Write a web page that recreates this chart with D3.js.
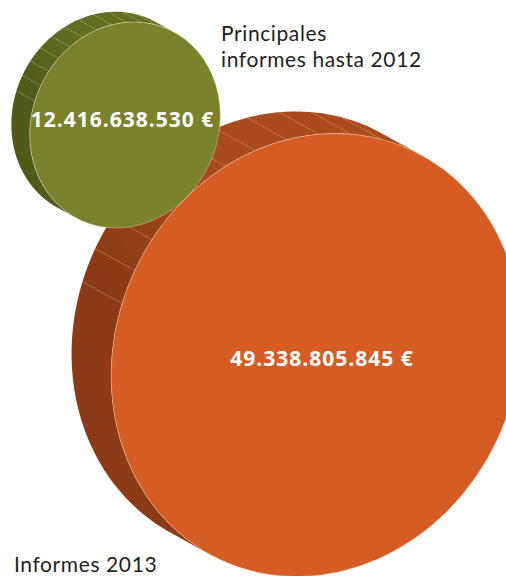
<!DOCTYPE html>
<html>
<head>
<meta charset="utf-8">
<script src="https://cdn.jsdelivr.net/npm/d3@7"></script>
<style>
  html, body { margin: 0; padding: 0; background: #fff; }
  svg { display: block; }
</style>
</head>
<body>
<svg id="chart" width="506" height="576"></svg>
<script>
// Values shown on each coin
const categories = ["Informes 2013", "Principales informes hasta 2012"];
const values = [49338805845, 12416638530];
const valueLabels = ["49.338.805.845 €", "12.416.638.530 €"];

// Coin placement and colours (drawing order: large coin first)
const layout = [
  { cx: 316, cy: 355, face: "#d55c23", sideLight: "#aa4b1d", sideDark: "#8c3b16", labelDx: 6, labelDy: 10.5 },
  { cx: 125, cy: 125, face: "#7a832b", sideLight: "#646e23", sideDark: "#505b1b", labelDx: -2.5, labelDy: 2 }
];

const svg = d3.select("#chart");
const defs = svg.append("defs");

// Major radius of each coin's face from its value
const rScale = d3.scalePow().exponent(0.555)
  .domain([0, d3.max(values)])
  .range([0, 226]);

const tilt = 25 * Math.PI / 180;     // clockwise rotation of the face
const squash = 0.885;                // minor / major axis
const depthRatio = 0.2;              // thickness relative to radius
const depthAngle = 209 * Math.PI / 180;
const nSeams = 40;

function coin(i) {
  const L = layout[i];
  const a = rScale(values[i]);       // vertical (major) semi-axis
  const b = a * squash;              // horizontal (minor) semi-axis
  const cos = Math.cos(tilt), sin = Math.sin(tilt);
  const d = [Math.cos(depthAngle) * a * depthRatio, Math.sin(depthAngle) * a * depthRatio];
  const pt = t => {
    const x = b * Math.cos(t), y = a * Math.sin(t);
    return [L.cx + x * cos - y * sin, L.cy + x * sin + y * cos];
  };
  const normal = t => {
    const x = a * Math.cos(t), y = b * Math.sin(t);
    const nx = x * cos - y * sin, ny = x * sin + y * cos;
    const len = Math.hypot(nx, ny);
    return [nx / len, ny / len];
  };
  const facing = t => { const n = normal(t); return n[0] * d[0] + n[1] * d[1]; };
  return { L, a, b, d, pt, normal, facing };
}

const line = d3.line();
const coins = values.map((v, i) => coin(i));

coins.forEach((c, i) => {
  const g = svg.append("g").attr("class", "coin");

  // Visible arc of the rim: where the outward normal points along the depth offset
  const steps = 720;
  const ts = d3.range(steps).map(k => k / steps * 2 * Math.PI);
  const start = ts.findIndex((t, k) => c.facing(t) > 0 && c.facing(ts[(k - 1 + steps) % steps]) <= 0);
  const arc = [];
  for (let k = 0; k <= steps; k++) {
    const t = ts[(start + k) % steps];
    if (c.facing(t) <= 0 && k > 0) { arc.push(t); break; }
    arc.push(t);
  }
  const backPts = arc.map(t => { const p = c.pt(t); return [p[0] + c.d[0], p[1] + c.d[1]]; });
  const frontPts = arc.map(c.pt).reverse();

  const gradId = "rim" + i;
  const grad = defs.append("linearGradient")
    .attr("id", gradId)
    .attr("gradientUnits", "userSpaceOnUse")
    .attr("x1", c.L.cx - 0.1 * c.a).attr("y1", c.L.cy - 1.1 * c.a)
    .attr("x2", c.L.cx - 0.9 * c.a).attr("y2", c.L.cy - 0.35 * c.a);
  grad.append("stop").attr("offset", 0.35).attr("stop-color", c.L.sideLight);
  grad.append("stop").attr("offset", 1).attr("stop-color", c.L.sideDark);

  g.append("path")
    .attr("class", "rim")
    .attr("d", line(backPts.concat(frontPts)) + "Z")
    .attr("fill", `url(#${gradId})`);

  // Light seams between rim facets on the upper edge
  const seams = d3.range(nSeams).map(k => k / nSeams * 2 * Math.PI).filter(t => {
    const n = c.normal(t);
    const ang = Math.atan2(n[1], n[0]) * 180 / Math.PI;
    return c.facing(t) > 0 && ang > -166 && ang < -58;
  });
  g.selectAll("line.seam").data(seams).join("line")
    .attr("class", "seam")
    .attr("x1", t => c.pt(t)[0] + c.d[0])
    .attr("y1", t => c.pt(t)[1] + c.d[1])
    .attr("x2", t => c.pt(t)[0])
    .attr("y2", t => c.pt(t)[1])
    .attr("stroke", "#f2d9c4")
    .attr("stroke-opacity", 0.7)
    .attr("stroke-width", 0.7)
    .attr("stroke-dasharray", "1.5 1");

  // Front face
  g.append("ellipse")
    .attr("cx", c.L.cx).attr("cy", c.L.cy)
    .attr("rx", c.b).attr("ry", c.a)
    .attr("transform", `rotate(${tilt * 180 / Math.PI} ${c.L.cx} ${c.L.cy})`)
    .attr("fill", c.L.face)
    .attr("stroke", "#f6dcc8")
    .attr("stroke-opacity", 0.6)
    .attr("stroke-width", 0.6);

  // Value label
  g.append("text")
    .attr("x", c.L.cx + c.L.labelDx)
    .attr("y", c.L.cy + c.L.labelDy)
    .attr("text-anchor", "middle")
    .attr("font-family", "'Open Sans', sans-serif")
    .attr("font-weight", 700)
    .attr("font-size", 21)
    .attr("letter-spacing", 1)
    .attr("fill", "#ffffff")
    .text(valueLabels[i]);
});

// Category captions
const captions = svg.append("g")
  .attr("font-family", "Lato, sans-serif")
  .attr("font-size", 21)
  .attr("letter-spacing", 0.6)
  .attr("fill", "#231f20");

captions.append("text")
  .selectAll("tspan")
  .data(["Principales", "informes hasta 2012"])
  .join("tspan")
  .attr("x", 221)
  .attr("y", (d, k) => 41.3 + k * 25.3)
  .text(d => d);

captions.append("text")
  .attr("x", 14).attr("y", 571.5)
  .text(categories[0]);
</script>
</body>
</html>
